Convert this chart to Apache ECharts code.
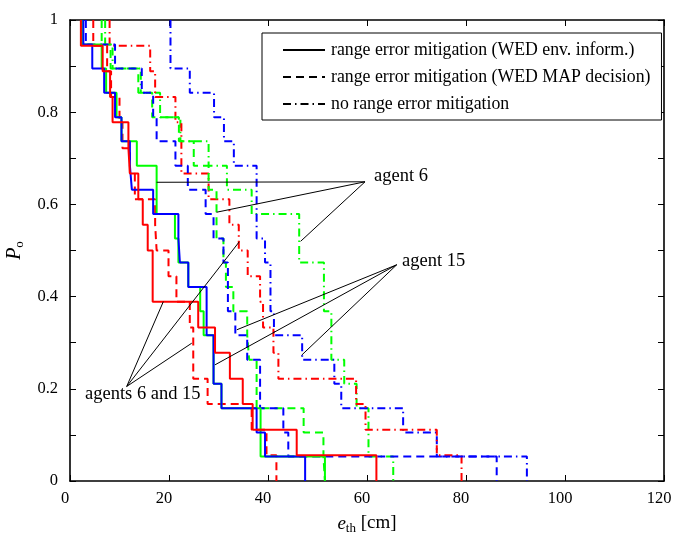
<!DOCTYPE html>
<html>
<head>
<meta charset="utf-8">
<script src="https://cdn.jsdelivr.net/npm/echarts@6/dist/echarts.min.js"></script>
<style>
  html, body { margin: 0; padding: 0; background: #fff; }
  #chart { width: 685px; height: 535px; }
</style>
</head>
<body>
<div id="chart"></div>
<script>
// step curves, [e_th, P_o] : level that starts at e_th
const blueSolid = [[2.7,1],[2.7,0.947],[4.5,0.895],[6.9,0.842],[9.1,0.789],[10.4,0.737],[12.1,0.684],[12.5,0.632],[16.8,0.579],[21.9,0.526],[22.2,0.474],[23.9,0.421],[27.6,0.316],[29,0.211],[30.6,0.158],[37.7,0.105],[39.4,0.053],[47.5,0]];
const greenSolid = [[2.4,1],[2.4,0.947],[6.4,0.895],[7.3,0.842],[9.4,0.789],[10.4,0.737],[13.5,0.684],[17.5,0.579],[21.2,0.526],[21.9,0.474],[23.9,0.421],[26.3,0.368],[27,0.316],[29,0.211],[30.6,0.158],[38.5,0.053],[51.5,0]];
const redSolid = [[2.2,1],[2.2,0.944],[6.6,0.889],[8.1,0.833],[8.6,0.778],[11.8,0.722],[12.1,0.667],[13.8,0.611],[14.7,0.556],[15.7,0.5],[16.7,0.389],[25.9,0.333],[29.3,0.278],[32.3,0.222],[34.9,0.167],[36.9,0.111],[45.8,0.056],[61.9,0]];

const blueDashed = [[3.2,1],[3.2,0.947],[9.1,0.895],[14.5,0.842],[16.8,0.789],[17.5,0.737],[21.3,0.684],[23.8,0.632],[27.4,0.579],[29,0.526],[31,0.474],[31.9,0.368],[33.4,0.316],[35.8,0.263],[38.4,0.158],[43.1,0.105],[44.1,0.053],[86.2,0]];
const greenDashed = [[6.4,1],[6.4,0.947],[8.2,0.895],[13.8,0.842],[16.6,0.789],[22,0.737],[25,0.684],[28,0.632],[29.6,0.526],[31,0.474],[31.5,0.421],[33,0.368],[35.8,0.316],[36.2,0.263],[37.7,0.158],[47.2,0.105],[51.2,0.053],[51.5,0]];
const redDashed = [[4.7,1],[4.7,0.944],[7.5,0.889],[8.3,0.833],[10,0.778],[10.6,0.722],[12.1,0.667],[13.1,0.611],[17.2,0.556],[17.5,0.5],[19.9,0.444],[21.5,0.389],[24.2,0.333],[24.9,0.222],[27.8,0.167],[36.7,0.111],[39.7,0.056],[41.7,0]];

const blueDashDot = [[20.3,1],[20.3,0.895],[24.2,0.842],[29.1,0.789],[31.1,0.737],[33.1,0.684],[37.7,0.526],[39.4,0.474],[40.5,0.368],[41.2,0.316],[46.9,0.263],[53.4,0.211],[54.8,0.158],[67.3,0.105],[74.1,0.053],[92.3,0]];
const greenDashDot = [[7.1,1],[7.1,0.947],[8.6,0.895],[14.3,0.842],[18.2,0.789],[22.3,0.737],[28,0.684],[31.7,0.632],[36.7,0.579],[46.3,0.474],[51.3,0.368],[52.8,0.263],[55.4,0.211],[57.9,0.158],[60.3,0.053],[65.3,0]];
const redDashDot = [[8,1],[8,0.944],[16.2,0.889],[17.2,0.833],[21.3,0.778],[22.5,0.667],[28,0.611],[32.2,0.556],[34.1,0.5],[35.9,0.444],[38.4,0.389],[39,0.333],[41.1,0.278],[42.1,0.222],[57.8,0.167],[59.7,0.111],[74.1,0.056],[79.1,0]];

const legendNames = [
  'range error mitigation (WED env. inform.)',
  'range error mitigation (WED MAP decision)',
  'no range error mitigation'
];

// annotation pointers: [from, to]
const agent6Lines = [[[59.6,0.649],[17.5,0.648]], [[59.6,0.649],[29.6,0.583]], [[59.6,0.649],[46.6,0.520]]];
const agent15Lines = [[[66.0,0.469],[33.7,0.328]], [[66.0,0.469],[29.3,0.252]], [[66.0,0.469],[46.8,0.273]]];
const bothLines = [[[11.45,0.205],[18.85,0.389]], [[11.45,0.205],[24.6,0.299]], [[11.45,0.205],[34.2,0.519]]];

const serif = '"Liberation Serif", "DejaVu Serif", serif';
const DASH = [8, 5];
const DASHDOT = [8, 4, 1.5, 4];

function curve(name, data, color, type) {
  return {
    name: name,
    type: 'line',
    step: 'end',
    data: data,
    symbol: 'none',
    showSymbol: false,
    silent: true,
    lineStyle: { color: color, width: 2, type: type },
    itemStyle: { color: color },
    z: 3
  };
}

function legendEntry(name, type) {
  return {
    name: name, type: 'line', data: [], symbol: 'none',
    itemStyle: { color: '#000', opacity: 0 },
    lineStyle: { color: '#000', width: 2, type: type }
  };
}

const chart = echarts.init(document.getElementById('chart'));

const axisCommon = {
  axisLine: { show: true, onZero: false, lineStyle: { color: '#000', width: 1.6 } },
  axisTick: { show: true, inside: true, length: 6, lineStyle: { color: '#000', width: 1 } },
  splitLine: { show: false }
};

const pointerLines = agent6Lines.concat(agent15Lines, bothLines).map(function (p) {
  return [{ coord: p[0] }, { coord: p[1] }];
});

const option = {
  animation: false,
  backgroundColor: '#fff',
  grid: { left: 70, right: 21, top: 20, bottom: 54, containLabel: false, outerBoundsMode: 'none' },
  legend: {
    orient: 'vertical',
    left: 262,
    top: 33,
    data: legendNames.map(function (n) { return { name: n, itemStyle: { opacity: 0 } }; }),
    backgroundColor: '#fff',
    borderColor: '#000',
    borderWidth: 1,
    padding: [8, 11, 7, 20],
    itemGap: 9,
    itemWidth: 42,
    itemHeight: 16,
    selectedMode: false,
    itemStyle: { opacity: 0 },
    textStyle: { fontFamily: serif, fontSize: 17.8, lineHeight: 18, color: '#000', padding: [0, 0, 0, 1] }
  },
  xAxis: [
    Object.assign({
      type: 'value', min: 0, max: 120, interval: 20,
      name: '{i|e}{s|th} [cm]',
      nameLocation: 'middle',
      nameGap: 31,
      nameTextStyle: {
        fontFamily: serif, fontSize: 19, color: '#000',
        rich: {
          i: { fontFamily: serif, fontSize: 19, fontStyle: 'italic', color: '#000' },
          s: { fontFamily: serif, fontSize: 13, color: '#000', padding: [10, 0, 0, 0] }
        }
      },
      axisLabel: { fontFamily: serif, fontSize: 16.5, color: '#000', margin: 9, padding: [0, 10, 0, 0] }
    }, axisCommon),
    Object.assign({
      type: 'value', min: 0, max: 120, interval: 20, position: 'top',
      axisLabel: { show: false }
    }, axisCommon)
  ],
  yAxis: [
    Object.assign({
      type: 'value', min: 0, max: 1, interval: 0.1,
      name: '{i|P}{s|o}',
      nameLocation: 'middle',
      nameGap: 34,
      nameTextStyle: {
        fontFamily: serif, fontSize: 19, color: '#000',
        rich: {
          i: { fontFamily: serif, fontSize: 20, fontStyle: 'italic', color: '#000' },
          s: { fontFamily: serif, fontSize: 13, color: '#000', padding: [10, 0, 0, 0] }
        }
      },
      axisLabel: {
        fontFamily: serif, fontSize: 16.5, color: '#000', margin: 12,
        formatter: function (v) {
          const t = Math.round(v * 10);
          return t % 2 === 0 ? String(t / 10) : '';
        }
      }
    }, axisCommon),
    Object.assign({
      type: 'value', min: 0, max: 1, interval: 0.1, position: 'right',
      axisLabel: { show: false }
    }, axisCommon)
  ],
  series: [
    curve('g-dd', greenDashDot, '#00ff00', DASHDOT),
    curve('b-dd', blueDashDot, '#0000ff', DASHDOT),
    curve('r-dd', redDashDot, '#ff0000', DASHDOT),
    curve('g-d', greenDashed, '#00ff00', DASH),
    curve('b-d', blueDashed, '#0000ff', DASH),
    curve('r-d', redDashed, '#ff0000', DASH),
    curve('g-s', greenSolid, '#00ff00', 'solid'),
    curve('b-s', blueSolid, '#0000ff', 'solid'),
    curve('r-s', redSolid, '#ff0000', 'solid'),
    legendEntry(legendNames[0], 'solid'),
    legendEntry(legendNames[1], DASH),
    legendEntry(legendNames[2], DASHDOT),
    {
      name: 'pointers', type: 'line', data: [], silent: true, z: 4,
      markLine: {
        silent: true, symbol: ['none', 'none'], animation: false,
        label: { show: false },
        lineStyle: { color: '#000', width: 1, type: 'solid' },
        data: pointerLines
      }
    }
  ],
  graphic: [
    { type: 'text', left: 374, top: 167, style: { text: 'agent 6', font: '18.5px ' + serif, fill: '#000' } },
    { type: 'text', left: 402, top: 252, style: { text: 'agent 15', font: '18.5px ' + serif, fill: '#000' } },
    { type: 'text', left: 85, top: 385, style: { text: 'agents 6 and 15', font: '18.5px ' + serif, fill: '#000' } }
  ]
};

chart.setOption(option);
</script>
</body>
</html>
